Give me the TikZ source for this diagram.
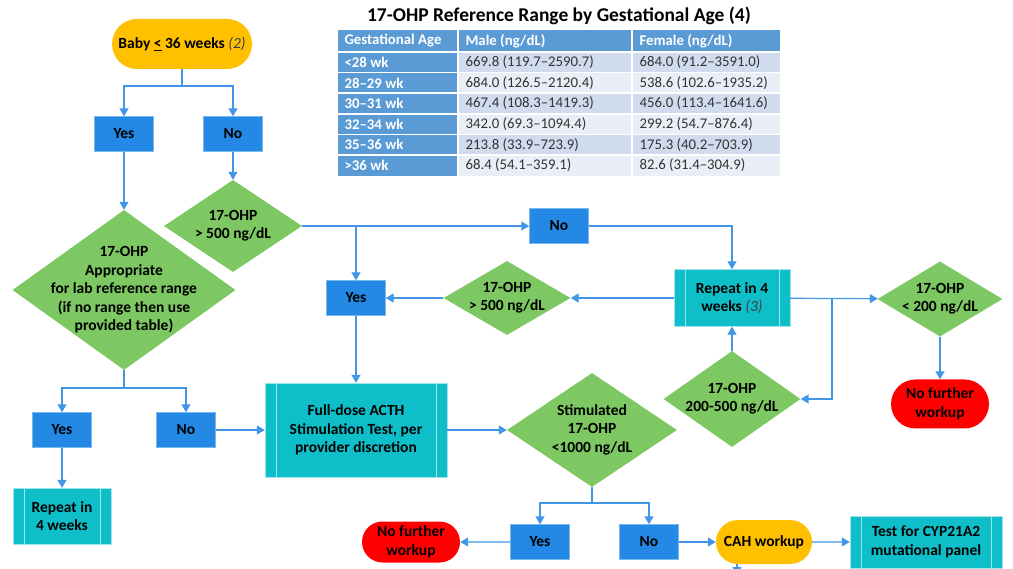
\documentclass[tikz,border=0pt]{standalone}
\usepackage{fontspec}
\setmainfont{Carlito}
\usetikzlibrary{shapes.geometric,shapes.misc,arrows.meta}
\definecolor{boxblue}{RGB}{35,137,229}
\definecolor{dgreen}{RGB}{125,200,98}
\definecolor{pcyan}{RGB}{14,190,200}
\definecolor{tred}{RGB}{255,0,0}
\definecolor{torange}{RGB}{255,192,0}
\definecolor{lnblue}{RGB}{66,150,232}
\definecolor{thead}{RGB}{91,155,213}
\definecolor{rowa}{RGB}{208,220,238}
\definecolor{rowb}{RGB}{233,238,247}
\newcommand{\dfont}{\bfseries\fontsize{15.5}{18.5}\selectfont}
\newcommand{\tfont}{\fontsize{14.8}{16}\selectfont}
% text of a diamond, kept out of its size
\newcommand{\dtx}[1]{\raisebox{-0.45em}{\makebox[0pt]{\smash{\begin{tabular}{@{}c@{}}#1\end{tabular}}}}}
\newcommand{\ital}[1]{{\mdseries\itshape\color{black!75}#1}}
\begin{document}
\begin{tikzpicture}[x=1pt,y=-1pt,
  yn/.style={fill=boxblue, draw=boxblue!60!white, minimum width=59, minimum height=35, inner sep=0, font=\dfont},
  dia/.style={diamond, fill=dgreen, inner sep=0, font=\dfont},
  proc/.style={fill=pcyan, draw=pcyan!40!white, inner sep=0, align=center, font=\dfont,
    path picture={
      \draw[pcyan!40!white, line width=1pt] ([xshift=11pt]path picture bounding box.north west) -- ([xshift=11pt]path picture bounding box.south west);
      \draw[pcyan!40!white, line width=1pt] ([xshift=-11pt]path picture bounding box.north east) -- ([xshift=-11pt]path picture bounding box.south east);}},
  pill/.style={rounded rectangle, inner sep=0, align=center, font=\dfont},
  ln/.style={draw=lnblue, line width=1.2pt},
  arr/.style={ln, -{Triangle[width=9pt,length=8pt]}}]
\useasboundingbox (0,0) rectangle (1013,569);

% table
\node[font=\bfseries\fontsize{19.5}{22}\selectfont] (title) at (559,16) {17-OHP Reference Range by Gestational Age (4)};
\fill[thead] (338,30) rectangle (780,52);
\foreach \r in {1,...,6} {
  \fill[thead] (338,{52+(\r-1)*20.6}) rectangle (458,{52+\r*20.6});
  \ifodd\r
    \fill[rowa] (458,{52+(\r-1)*20.6}) rectangle (780,{52+\r*20.6});
  \else
    \fill[rowb] (458,{52+(\r-1)*20.6}) rectangle (780,{52+\r*20.6});
  \fi
  \draw[white, line width=1.5pt] (338,{52+(\r-1)*20.6}) -- (780,{52+(\r-1)*20.6});
}
\draw[white, line width=1.5pt] (458,30) -- (458,175.6);
\draw[white, line width=1.5pt] (632,30) -- (632,175.6);
\node[anchor=west, font=\tfont\bfseries, text=white] (h1) at (341,41) {Gestational Age};
\node[anchor=west, font=\tfont\bfseries, text=white] (h2) at (462,41) {Male (ng/dL)};
\node[anchor=west, font=\tfont\bfseries, text=white] (h3) at (636,41) {Female (ng/dL)};
\foreach \r/\a/\m/\f in {1/{<28 wk}/{669.8 (119.7–2590.7)}/{684.0 (91.2–3591.0)},
    2/{28–29 wk}/{684.0 (126.5–2120.4)}/{538.6 (102.6–1935.2)},
    3/{30–31 wk}/{467.4 (108.3–1419.3)}/{456.0 (113.4–1641.6)},
    4/{32–34 wk}/{342.0 (69.3–1094.4)}/{299.2 (54.7–876.4)},
    5/{35–36 wk}/{213.8 (33.9–723.9)}/{175.3 (40.2–703.9)},
    6/{>36 wk}/{68.4 (54.1–359.1)}/{82.6 (31.4–304.9)}} {
  \node[anchor=west, font=\tfont\bfseries, text=white] (a\r) at (341,{52+(\r-0.5)*20.6}) {\a};
  \node[anchor=west, font=\tfont, text=black!80] (m\r) at (462,{52+(\r-0.5)*20.6}) {\m};
  \node[anchor=west, font=\tfont, text=black!80] (f\r) at (636,{52+(\r-0.5)*20.6}) {\f};
}

% nodes
\node[pill, fill=torange, minimum width=140, minimum height=50] (baby) at (182,44) {Baby \underline{<} 36 weeks \ital{(2)}};
\node[yn] (yes1) at (124,134) {Yes};
\node[yn] (no1) at (233,134) {No};
\node[dia, minimum width=223, minimum height=160] (dbig) at (124,290) {\dtx{17-OHP\\Appropriate\\for lab reference range\\(if no range then use\\provided table)}};
\node[dia, minimum width=138, minimum height=92] (dsm) at (233,226) {\dtx{17-OHP\\> 500 ng/dL}};
\node[yn] (no2) at (559,226) {No};
\node[yn] (yes2) at (356,298) {Yes};
\node[proc, minimum width=116, minimum height=57] (rep1) at (732,298) {Repeat in 4\\weeks \ital{(3)}};
\node[dia, minimum width=127, minimum height=74] (d500) at (507,298) {\dtx{17-OHP\\> 500 ng/dL}};
\node[dia, minimum width=125, minimum height=75] (d200) at (940,299) {\dtx{17-OHP\\< 200 ng/dL}};
\node[pill, fill=tred, minimum width=98, minimum height=49] (nfw1) at (940,404) {No further\\workup};
\node[dia, minimum width=137, minimum height=96] (dmid) at (732,399) {\dtx{17-OHP\\200-500 ng/dL}};
\node[proc, minimum width=182, minimum height=94] (acth) at (356,430) {Full-dose ACTH\\Stimulation Test, per\\provider discretion};
\node[dia, minimum width=170, minimum height=114] (dstim) at (592,430) {\dtx{Stimulated\\17-OHP\\<1000 ng/dL}};
\node[yn] (yes3) at (62,430) {Yes};
\node[yn] (no3) at (186,430) {No};
\node[proc, minimum width=98, minimum height=56] (rep2) at (62,516) {Repeat in\\4 weeks};
\node[yn] (yes4) at (540,542) {Yes};
\node[yn] (no4) at (649,542) {No};
\node[pill, fill=tred, minimum width=98, minimum height=41] (nfw2) at (411,542) {No further\\workup};
\node[pill, fill=torange, minimum width=96, minimum height=44] (cah) at (764,542) {CAH workup};
\node[proc, minimum width=152, minimum height=52] (cyp) at (926,542) {Test for CYP21A2\\mutational panel};

% connectors
\coordinate (j1) at (182,86);
\draw[ln] (baby) -- (j1);
\draw[arr] (j1) -| (yes1);
\draw[arr] (j1) -| (no1);
\draw[arr] (yes1) -- (dbig);
\draw[arr] (no1) -- (dsm);
\draw[arr] (dsm.east) -- (no2);
\coordinate (j2) at (356,226);
\draw[arr] (j2) -- (yes2);
\draw[arr] (no2) -| (rep1);
\draw[arr] (rep1) -- (d500);
\draw[arr] (d500) -- (yes2);
\draw[arr] (yes2) -- (acth);
\coordinate (j3) at (832,298);
\draw[arr] (rep1) -- (d200);
\draw[arr] (j3) |- (dmid.east);
\draw[arr] (dmid) -- (rep1);
\draw[arr] (d200) -- (nfw1);
\coordinate (j4) at (124,388);
\draw[ln] (dbig.south) -- (j4);
\draw[arr] (j4) -| (yes3);
\draw[arr] (j4) -| (no3);
\draw[arr] (yes3) -- (rep2);
\draw[arr] (no3) -- (acth);
\draw[arr] (acth) -- (dstim);
\coordinate (j5) at (592,503);
\draw[ln] (dstim.south) -- (j5);
\draw[arr] (j5) -| (yes4);
\draw[arr] (j5) -| (no4);
\draw[arr] (yes4) -- (nfw2);
\draw[arr] (no4) -- (cah);
\draw[arr] (cah) -- (cyp);
\coordinate (c1) at (737,575);
\draw[arr] (cah.south -| c1) -- (c1);
\end{tikzpicture}
\end{document}
